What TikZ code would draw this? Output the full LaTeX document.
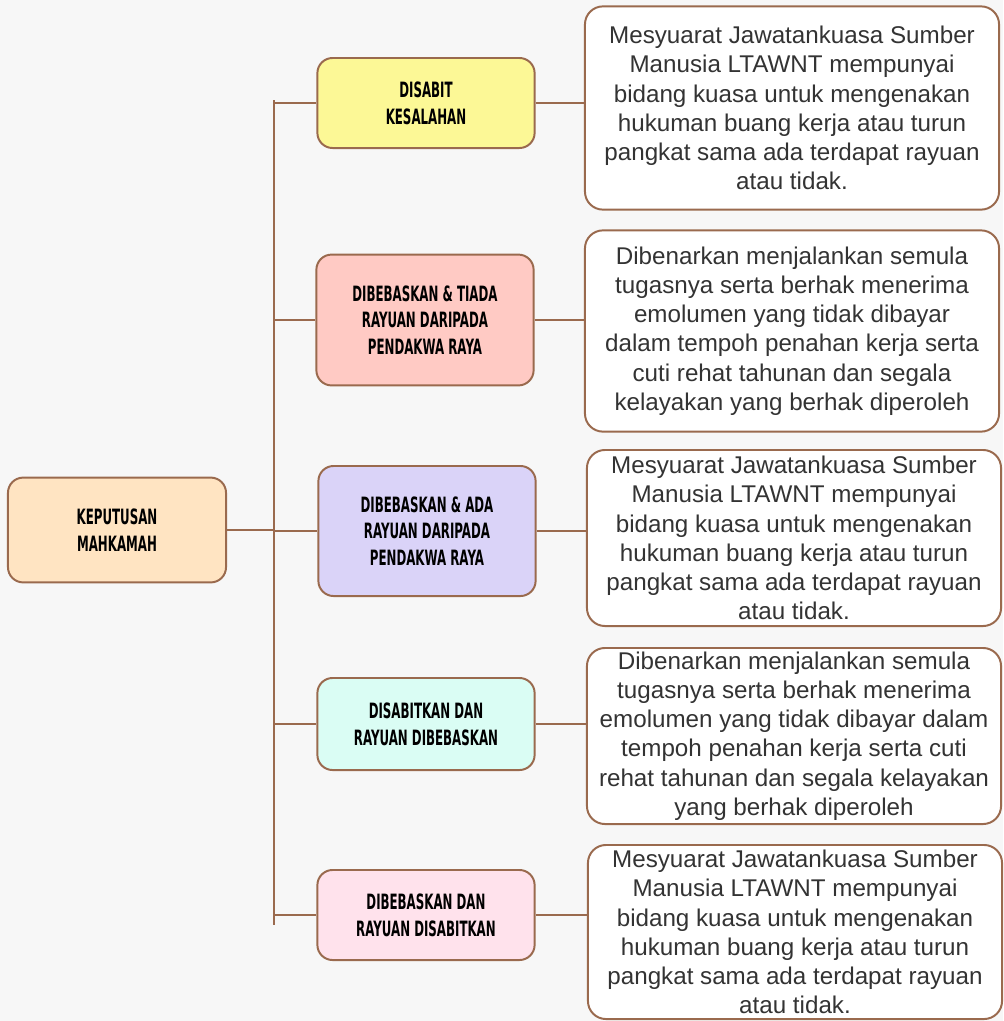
\documentclass[tikz,border=0pt]{standalone}
\usepackage{fontspec}
\setmainfont{Liberation Sans}
\newfontfamily\headfont[FakeStretch=0.56]{DejaVu Sans}
\usepackage{xcolor}
\usepackage{tikz}
\definecolor{bgc}{HTML}{F7F7F7}
\definecolor{brn}{HTML}{9A6A4E}
\definecolor{txt}{HTML}{333333}
\definecolor{peach}{HTML}{FFE4C2}
\definecolor{yel}{HTML}{FCF896}
\definecolor{rose}{HTML}{FFCAC4}
\definecolor{lav}{HTML}{DAD3F8}
\definecolor{mint}{HTML}{DAFDF4}
\definecolor{blush}{HTML}{FFE2EC}

\begin{document}
\begin{tikzpicture}[x=0.025cm, y=-0.025cm,
	every node/.style={draw=brn, line width=1.4pt, rounded corners=0.38cm, align=center, inner sep=0pt},
	head/.style={font=\headfont\bfseries\fontsize{15}{19}\selectfont, minimum width=5.43cm},
	info/.style={fill=white, text=txt, font=\fontsize{17.2}{20.8}\selectfont, minimum width=10.35cm, rounded corners=0.45cm},
	link/.style={brn, line width=1.4pt}]
			\fill[bgc] (0,0) rectangle (1003,1021);
			% Nodes
			\node[head, fill=peach, minimum width=5.45cm, minimum height=2.62cm] (0) at (117,530) {KEPUTUSAN\\MAHKAMAH};
			\node[head, fill=yel, minimum height=2.25cm] (1) at (426,103) {DISABIT\\KESALAHAN};
			\node[head, fill=rose, minimum height=3.27cm] (2) at (425,320) {DIBEBASKAN \& TIADA\\RAYUAN DARIPADA\\PENDAKWA RAYA};
			\node[head, fill=lav, minimum height=3.25cm] (3) at (427,531) {DIBEBASKAN \& ADA\\RAYUAN DARIPADA\\PENDAKWA RAYA};
			\node[head, fill=mint, minimum height=2.3cm] (4) at (426,724) {DISABITKAN DAN\\RAYUAN DIBEBASKAN};
			\node[head, fill=blush, minimum height=2.25cm] (5) at (426,915) {DIBEBASKAN DAN\\RAYUAN DISABITKAN};
			% Text boxes
			\node[info, minimum height=5.08cm] (t1) at (792,108) {Mesyuarat Jawatankuasa Sumber\\Manusia LTAWNT mempunyai\\bidang kuasa untuk mengenakan\\hukuman buang kerja atau turun\\pangkat sama ada terdapat rayuan\\atau tidak.};
			\node[info, minimum height=5.03cm] (t2) at (792,331) {Dibenarkan menjalankan semula\\tugasnya serta berhak menerima\\emolumen yang tidak dibayar\\dalam tempoh penahan kerja serta\\cuti rehat tahunan dan segala\\kelayakan yang berhak diperoleh};
			\node[info, minimum height=4.4cm] (t3) at (794,538) {Mesyuarat Jawatankuasa Sumber\\Manusia LTAWNT mempunyai\\bidang kuasa untuk mengenakan\\hukuman buang kerja atau turun\\pangkat sama ada terdapat rayuan\\atau tidak.};
			\node[info, minimum height=4.4cm] (t4) at (794,736) {Dibenarkan menjalankan semula\\tugasnya serta berhak menerima\\emolumen yang tidak dibayar dalam\\tempoh penahan kerja serta cuti\\rehat tahunan dan segala kelayakan\\yang berhak diperoleh};
			\node[info, minimum height=4.35cm] (t5) at (795,932) {Mesyuarat Jawatankuasa Sumber\\Manusia LTAWNT mempunyai\\bidang kuasa untuk mengenakan\\hukuman buang kerja atau turun\\pangkat sama ada terdapat rayuan\\atau tidak.};
			% Spine
			\coordinate (top) at (274,100);
			\coordinate (bot) at (274,925);
			\draw[link] (top) -- (bot);
			% Edges
			\draw[link] (0.east) -- (0.east -| top);
			\foreach \i in {1,...,5} {
				\draw[link] (\i.west -| top) -- (\i.west);
				\draw[link] (\i.east) -- (\i.east -| t\i.west);
			}
		\end{tikzpicture}
\end{document}
